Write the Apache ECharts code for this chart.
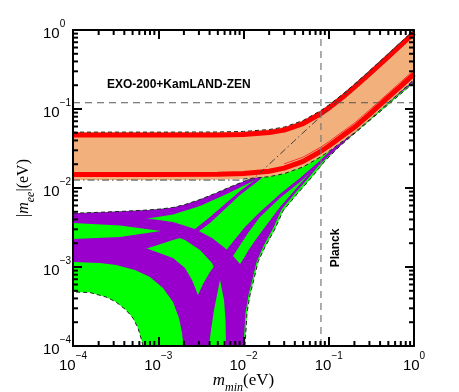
<!DOCTYPE html>
<html><head><meta charset="utf-8">
<script src="https://cdn.jsdelivr.net/npm/echarts@6/dist/echarts.min.js"></script>
<style>html,body{margin:0;padding:0;background:#fff}#c{width:459px;height:392px}</style>
</head><body><div id="c"></div>
<script>
// ---------- data (eV) ----------
const tickExponents = [-4, -3, -2, -1, 0];
const minorMultipliers = [2, 3, 4, 5, 6, 7, 8, 9];
const decades = [1e-4, 1e-3, 1e-2, 1e-1];

// Inverted hierarchy band
const mGrid = [1e-4, 1e-3, 5e-3, 0.01, 0.02, 0.03, 0.05, 0.08, 0.1, 0.15, 0.2, 0.3, 0.5, 0.7, 1];
const ihTop = [0.051, 0.051, 0.0512, 0.052, 0.055, 0.059, 0.0715, 0.095, 0.112, 0.158, 0.206, 0.304, 0.503, 0.702, 1.0];
const ihTopRed = [0.0467, 0.0467, 0.0469, 0.0476, 0.0504, 0.054, 0.0655, 0.087, 0.1026, 0.145, 0.189, 0.278, 0.461, 0.643, 0.916];
const ihBottom = [0.0126, 0.0126, 0.0127, 0.0130, 0.0139, 0.0152, 0.0185, 0.0247, 0.029, 0.040, 0.050, 0.073, 0.12, 0.166, 0.235];
const ihBottomRed = [0.0148, 0.0148, 0.0149, 0.01526, 0.0163, 0.01785, 0.0217, 0.029, 0.034, 0.047, 0.0587, 0.0857, 0.141, 0.195, 0.276];
const ihThinM = [0.03, 0.05, 0.08, 0.1, 0.15, 0.2, 0.3, 0.5, 0.7, 1];
const ihThinRed = [0.0202, 0.0246, 0.0328, 0.0384, 0.053, 0.0663, 0.0968, 0.159, 0.22, 0.312];

// Normal hierarchy region
const nhTop = [[1e-4,0.00478],[2.074e-4,0.00493],[3.859e-4,0.00507],[7.58e-4,0.00527],[1.048e-3,0.00542],[1.489e-3,0.00566],[2.06e-3,0.00618],[3.088e-3,0.00715],[4.631e-3,0.00852],[6.944e-3,0.0103],[1.041e-2,0.01227],[1.561e-2,0.01504],[2.68e-2,0.02197],[4.6e-2,0.035],[0.1034,0.0769],[0.2326,0.1791],[0.5231,0.4172],[1,0.8396]];
const nhRight = [[1,0.2165],[0.1355,0.034],[0.09036,0.02197],[0.0636,0.01378],[0.04357,0.00865],[0.02905,0.00512],[0.02341,0.00303],[0.01787,0.00179],[0.01479,0.00116],[0.01328,0.000705],[0.01192,0.000442],[0.01099,0.000262],[0.0107,0.000159],[0.01041,1e-4]];
const nhLeftLow = [[6.623e-4,1e-4],[6.275e-4,0.000126],[5.788e-4,0.000169],[5.056e-4,0.000226],[4.183e-4,0.000286],[3.195e-4,0.000361],[2.438e-4,0.000417],[1.583e-4,0.000475],[1e-4,0.000483]];

// CP-conserving bands
const aMin = [[1e-4,0.00361],[2.074e-4,0.00371],[3.859e-4,0.00388],[7.58e-4,0.00411],[1.489e-3,0.00462],[3.088e-3,0.00592],[6.944e-3,0.0088],[1.041e-2,0.0109],[1.561e-2,0.0135],[2.68e-2,0.01899],[4.6e-2,0.0303],[0.1034,0.0665],[0.2326,0.1548],[0.5231,0.3605],[1,0.7258]];
const bMax = [[1e-4,0.00226],[3.558e-4,0.0024],[1.077e-3,0.00286],[2.698e-3,0.00303],[4.046e-3,0.00429],[6.067e-3,0.00627],[9.096e-3,0.00916],[1.364e-2,0.01263],[2.046e-2,0.01791],[4.6e-2,0.035],[0.1034,0.0684],[1,0.6457]];
const bMin = [[1e-4,0.00116],[2.716e-4,0.00138],[7.379e-4,0.00171],[1.489e-3,0.0022],[2.698e-3,0.00262],[4.046e-3,0.00361],[6.067e-3,0.00542],[9.096e-3,0.00815],[1.364e-2,0.0114],[2.046e-2,0.01641],[4.6e-2,0.032],[0.1034,0.062],[1,0.6]];
const cMaxDec = [[1e-4,0.00226],[2.716e-4,0.00201],[7.379e-4,0.00171],[1.489e-3,0.0013],[2.06e-3,0.000971],[2.489e-3,0.000684],[2.925e-3,0.000442]];
const cMaxRise = [[3.349e-3,0.000609],[4.046e-3,0.000865],[5.301e-3,0.0013],[7.33e-3,0.00201],[1.041e-2,0.00321],[1.561e-2,0.00497],[2.68e-2,0.0084],[4.6e-2,0.01338],[0.1034,0.02856],[1,0.2541]];
const cMinDec = [[1e-4,0.00116],[2.074e-4,0.00112],[3.195e-4,0.00106],[5.337e-4,0.000916],[8.0e-4,0.000747],[1.137e-3,0.000542],[1.489e-3,0.000361],[1.751e-3,0.000226],[1.9e-3,0.000146],[1.978e-3,1e-4]];
const cMinRise = [[3.939e-3,1e-4],[4.157e-3,0.000159],[4.508e-3,0.000286],[4.887e-3,0.000442],[5.301e-3,0.000684],[6.232e-3,0.001],[7.949e-3,0.0015],[1.129e-2,0.00269],[1.561e-2,0.00429],[2.68e-2,0.00747],[4.6e-2,0.0119],[0.1034,0.02617],[1,0.2398]];
const dMaxDec = [[1e-4,0.00478],[2.716e-4,0.00455],[7.58e-4,0.00411],[1.489e-3,0.00371],[2.698e-3,0.00303],[4.271e-3,0.00233],[6.067e-3,0.00174],[7.738e-3,0.00134],[9.096e-3,0.00109]];
const dMaxRise = [[1.014e-2,0.0013],[1.129e-2,0.00159],[1.328e-2,0.00207],[1.648e-2,0.00286],[2.102e-2,0.00405],[2.68e-2,0.00575],[3.913e-2,0.00916],[5.71e-2,0.0146],[8.332e-2,0.02329],[0.125,0.03606],[1,0.2329]];
const dMinDec = [[1e-4,0.00361],[3.558e-4,0.00335],[1.077e-3,0.00286],[2.06e-3,0.0022],[3.088e-3,0.00164],[4.271e-3,0.00112],[5.301e-3,0.000684],[5.907e-3,0.000382],[6.15e-3,0.000213],[6.232e-3,1e-4]];
const dMinRise = [[0.01,1e-4],[0.01027,0.000159],[0.01055,0.000262],[0.01145,0.000442],[0.01275,0.000705],[0.0142,0.00116],[0.01716,0.00184],[0.02248,0.00316],[0.0279,0.00534],[0.04184,0.00903],[0.06107,0.0144],[0.08679,0.02295],[0.1302,0.03553],[1,0.2229]];

// reference lines
const exoLimit = 0.12;
const planckLimit = 0.081;
const ihSimple = [[1e-4,0.0126],[0.0126,0.0126],[1,1]];

// ---------- build ----------
const rev = a => a.slice().reverse();
const zip = (xs, ys) => xs.map((x, i) => [x, ys[i]]);
const greenPoly = nhTop.concat(nhRight, nhLeftLow);
const aPoly = nhTop.concat(rev(aMin));
const bPoly = bMax.concat(rev(bMin));
const cPoly = cMaxDec.concat(cMaxRise, rev(cMinRise), rev(cMinDec));
const dPoly = dMaxDec.concat(dMaxRise, rev(dMinRise), rev(dMinDec));
const ihPoly = zip(mGrid, ihTop).concat(rev(zip(mGrid, ihBottom)));

const GREEN = '#00FF00', PURPLE = '#9900CC', ORANGE = '#F1B07C', RED = '#FF0000';

function poly(points, color, z) {
  return {
    type: 'custom', coordinateSystem: 'cartesian2d', z: z, silent: true,
    data: [points[0]],
    renderItem: function (params, api) {
      return { type: 'polygon', shape: { points: points.map(p => api.coord(p)) }, style: { fill: color } };
    }
  };
}
function line(data, color, width, type, z) {
  return { type: 'line', data: data, showSymbol: false, symbol: 'none', silent: true, z: z,
    lineStyle: { color: color, width: width, type: type } };
}
const minorVals = [];
decades.forEach(d => minorMultipliers.forEach(k => minorVals.push(d * k)));

function fmtExp(v) {
  const e = Math.round(Math.log10(v));
  return (e < 0 ? '\u2212' + (-e) : '' + e);
}
const labelRich = {
  b: { fontFamily: 'Liberation Sans', fontSize: 15, color: '#000', verticalAlign: 'bottom', lineHeight: 22 },
  s: { fontFamily: 'Liberation Sans', fontSize: 10, color: '#000', verticalAlign: 'top', lineHeight: 22 }
};
function nameRich(fs) {
  return {
    n: { fontFamily: 'Liberation Serif', fontSize: fs, color: '#000', verticalAlign: 'top', lineHeight: fs + 5 },
    i: { fontFamily: 'Liberation Serif', fontStyle: 'italic', fontSize: fs, color: '#000', verticalAlign: 'top', lineHeight: fs + 5 },
    sub: { fontFamily: 'Liberation Serif', fontStyle: 'italic', fontSize: Math.round(fs * 0.72), color: '#000', verticalAlign: 'bottom', lineHeight: fs + 5 }
  };
}
const axBase = {
  type: 'log', logBase: 10, min: 1e-4, max: 1, splitNumber: 4, z: 30,
  nameMoveOverlap: false,
  axisLine: { show: true, lineStyle: { color: '#000', width: 2 } },
  axisTick: { show: true, inside: true, length: 9, lineStyle: { color: '#000', width: 2 } },
  splitLine: { show: false }, minorTick: { show: false }
};

const chart = echarts.init(document.getElementById('c'), null, { renderer: 'canvas' });
chart.setOption({
  animation: false,
  backgroundColor: '#fff',
  grid: { left: 73, right: 45, top: 30, bottom: 46, containLabel: false, outerBoundsMode: 'none' },
  xAxis: [
    Object.assign({}, axBase, {
      position: 'bottom',
      name: '{i|m}{sub|min}{n|(eV)}', nameLocation: 'middle', nameGap: 26,
      nameTextStyle: { rich: nameRich(17) },
      axisLabel: { margin: 5, formatter: v => '{b|10}{s|' + fmtExp(v) + '}', rich: labelRich }
    }),
    Object.assign({}, axBase, { position: 'top', axisLabel: { show: false } })
  ],
  yAxis: [
    Object.assign({}, axBase, {
      position: 'left',
      name: '{n||}{i|m}{sub|ee}{n||(eV)}', nameLocation: 'middle', nameGap: 36, nameRotate: 90,
      nameTextStyle: { rich: nameRich(16) },
      axisLabel: { margin: 30, align: 'left', formatter: v => '{b|10}{s|' + fmtExp(v) + '}', rich: labelRich }
    }),
    Object.assign({}, axBase, { position: 'right', axisLabel: { show: false } })
  ],
  graphic: [
    { type: 'text', x: 107, y: 85, z: 100, style: { text: 'EXO-200+KamLAND-ZEN', font: 'bold 12px "Liberation Sans"', fill: '#000', align: 'left', verticalAlign: 'middle' } },
    { type: 'text', x: 336, y: 248, rotation: Math.PI / 2, z: 100, style: { text: 'Planck', font: 'bold 12px "Liberation Sans"', fill: '#000', align: 'center', verticalAlign: 'middle' } }
  ],
  series: [
    poly(greenPoly, GREEN, 1),
    poly(aPoly, PURPLE, 2),
    poly(bPoly, PURPLE, 2),
    poly(cPoly, PURPLE, 2),
    poly(dPoly, PURPLE, 2),
    line(nhTop, '#222', 1, [4, 3], 3),
    line(nhRight, '#222', 1, [4, 3], 3),
    line(nhLeftLow, '#222', 1, [4, 3], 3),
    poly(ihPoly, ORANGE, 4),
    line(zip(mGrid, ihTopRed), RED, 5, 'solid', 5),
    line(zip(mGrid, ihBottomRed), RED, 5, 'solid', 5),
    line(zip(ihThinM, ihThinRed), '#FF3030', 1, 'solid', 5),
    line(zip(mGrid, ihTop), '#222', 1, [4, 3], 6),
    line(zip(mGrid.slice(3), ihBottom.slice(3)), '#222', 1, [4, 3], 6),
    line(ihSimple, '#444', 1, [7, 3, 1.5, 3], 7),
    line([[1e-4, exoLimit], [1, exoLimit]], '#555', 1, [7, 5], 8),
    line([[planckLimit, 1e-4], [planckLimit, 1]], '#777', 1.2, [7, 5], 8),
    {
      type: 'custom', coordinateSystem: 'cartesian2d', z: 31, silent: true,
      data: minorVals.map(v => [v, 1e-4]),
      renderItem: function (params, api) {
        const v = api.value(0);
        const b = api.coord([v, 1e-4]), t = api.coord([v, 1]);
        return { type: 'group', children: [
          { type: 'line', shape: { x1: b[0], y1: b[1], x2: b[0], y2: b[1] - 5 }, style: { stroke: '#000', lineWidth: 2 } },
          { type: 'line', shape: { x1: t[0], y1: t[1], x2: t[0], y2: t[1] + 5 }, style: { stroke: '#000', lineWidth: 2 } }
        ] };
      }
    },
    {
      type: 'custom', coordinateSystem: 'cartesian2d', z: 31, silent: true,
      data: minorVals.map(v => [1e-4, v]),
      renderItem: function (params, api) {
        const v = api.value(1);
        const l = api.coord([1e-4, v]), r = api.coord([1, v]);
        return { type: 'group', children: [
          { type: 'line', shape: { x1: l[0], y1: l[1], x2: l[0] + 5, y2: l[1] }, style: { stroke: '#000', lineWidth: 2 } },
          { type: 'line', shape: { x1: r[0], y1: r[1], x2: r[0] - 5, y2: r[1] }, style: { stroke: '#000', lineWidth: 2 } }
        ] };
      }
    }
  ]
});
</script></body></html>
